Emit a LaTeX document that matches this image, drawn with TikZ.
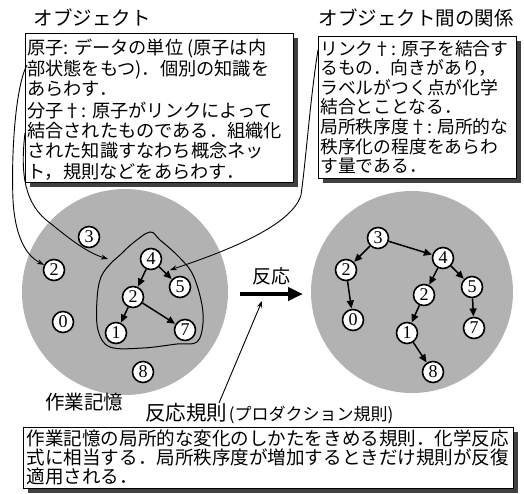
\documentclass[tikz,border=0pt]{standalone}
\usepackage{fontspec}
\setmainfont{Liberation Serif}
\newfontfamily\jp{Noto Sans CJK JP}
\usetikzlibrary{arrows.meta,shadows}
\begin{document}
\begin{tikzpicture}[x=1pt,y=-1pt,
  atom/.style={circle,draw,line width=1.6pt,fill=white,minimum size=21pt,inner sep=0pt,font=\fontsize{18}{18}\selectfont},
  link/.style={line width=1.5pt,-{Triangle[length=8pt,width=7pt]},shorten >=0.3pt},
  memory/.style={fill=black!30},
  infobox/.style={draw,line width=1pt,fill=white,inner sep=0pt,anchor=north west,
     drop shadow={shadow xshift=4pt,shadow yshift=-4pt,fill=black!75,opacity=1}},
  boxtext/.style={anchor=north west,inner sep=0pt,align=left},
  title/.style={font=\jp\fontsize{19.5}{20}\selectfont,inner sep=0pt},
  pointer/.style={line width=0.9pt,-{Stealth[length=7pt,width=5pt]}}
]
\useasboundingbox (0,0) rectangle (524,493);

% titles
\node[title] (t1) at (92,18) {オブジェクト};
\node[title] (t2) at (416,18) {オブジェクト間の関係};

% boxes
\node[infobox,minimum width=268pt,minimum height=149pt] (lbox) at (25,33) {};
\node[boxtext,font=\jp\fontsize{18.2}{20.3}\selectfont] (ltext) at (27,39)
 {原子: データの単位 (原子は内\\部状態をもつ)．個別の知識を\\あらわす．\\[1.5pt]
  分子†: 原子がリンクによって\\結合されたものである．組織化\\された知識すなわち概念ネッ\\ト，規則などをあらわす．};

\node[infobox,minimum width=198pt,minimum height=142pt] (rbox) at (318,36) {};
\node[boxtext,font=\jp\fontsize{17.8}{19.6}\selectfont] (rtext) at (320,40)
 {リンク†: 原子を結合す\\るもの．向きがあり，\\ラベルがつく点が化学\\結合とことなる．\\
  局所秩序度†: 局所的な\\秩序化の程度をあらわ\\す量である．};

\node[infobox,minimum width=490pt,minimum height=61pt] (bbox) at (23,427) {};
\node[boxtext,font=\jp\fontsize{18.55}{19.2}\selectfont] (btext) at (26.5,429.5)
 {作業記憶の局所的な変化のしかたをきめる規則．化学反応\\式に相当する．局所秩序度が増加するときだけ規則が反復\\適用される．};

% memories
\fill[memory] (125,292) circle[radius=103];
\fill[memory] (412,292) circle[radius=101];

% molecule outline
\draw[line width=1pt] plot[smooth cycle,tension=0.6] coordinates
 {(150,232) (160,240) (177,255) (192,273) (201,300) (203,323) (197,342) (177,344)
  (143,348) (110,347) (98,330) (97,300) (101,277) (112,262) (120,255) (133,243)};

% left atoms
\node[atom] (a3) at (89,237) {3};
\node[atom] (a2o) at (54,270) {2};
\node[atom] (a0) at (63,322) {0};
\node[atom] (a4) at (151,259) {4};
\node[atom] (a5) at (180,287) {5};
\node[atom] (a2) at (133,297) {2};
\node[atom] (a1) at (116,333) {1};
\node[atom] (a7) at (185,330) {7};
\node[atom] (a8) at (143,372) {8};
\draw[link] (a4) -- (a2);
\draw[link] (a4) -- (a5);
\draw[link] (a2) -- (a1);
\draw[link] (a2) -- (a7);

% right atoms
\node[atom] (b3) at (378,238) {3};
\node[atom] (b2o) at (346,270) {2};
\node[atom] (b0) at (353,320) {0};
\node[atom] (b4) at (443,258) {4};
\node[atom] (b2) at (424,295) {2};
\node[atom] (b5) at (472,287) {5};
\node[atom] (b1) at (407,333) {1};
\node[atom] (b7) at (474,328) {7};
\node[atom] (b8) at (433,372) {8};
\draw[link] (b3) -- (b2o);
\draw[link] (b3) -- (b4);
\draw[link] (b2o) -- (b0);
\draw[link] (b4) -- (b2);
\draw[link] (b4) -- (b5);
\draw[link] (b5) -- (b7);
\draw[link] (b2) -- (b1);
\draw[link] (b1) -- (b8);

% reaction arrow
\node[font=\jp\fontsize{19}{19}\selectfont,inner sep=0pt] (react) at (271,276) {反応};
\coordinate (ra) at (240,294);
\coordinate (rb) at (303,294);
\draw[line width=4.5pt,-{Triangle[length=15pt,width=13pt]}] (ra) -- (rb);

% labels
\node[font=\jp\fontsize{19.5}{20}\selectfont,inner sep=0pt] (wm) at (84,402) {作業記憶};
\node[anchor=west,inner sep=0pt] (rule) at (145,414)
 {{\jp\fontsize{20.5}{21}\selectfont 反応規則}\,{\jp\fontsize{17}{17}\selectfont(プロダクション規則)}};

% pointers
\coordinate (p1) at (27,65);
\coordinate (p2) at (25,133);
\coordinate (q2) at (108,259);
\coordinate (p3) at (318,50);
\coordinate (q3) at (170,270);
\coordinate (p4) at (219,403);
\coordinate (q4) at (262,301);
\draw[pointer] (p1) .. controls (16,85) and (11,150) .. (13,200) .. controls (15,235) and (25,255) .. (a2o);
\draw[pointer] (p2) .. controls (20,175) and (25,205) .. (50,223) .. controls (65,235) and (85,252) .. (q2);
\draw[pointer] (p3) .. controls (310,100) and (306,160) .. (301,195) .. controls (292,225) and (230,250) .. (q3);
\draw[pointer] (p4) -- (q4);
\end{tikzpicture}
\end{document}
